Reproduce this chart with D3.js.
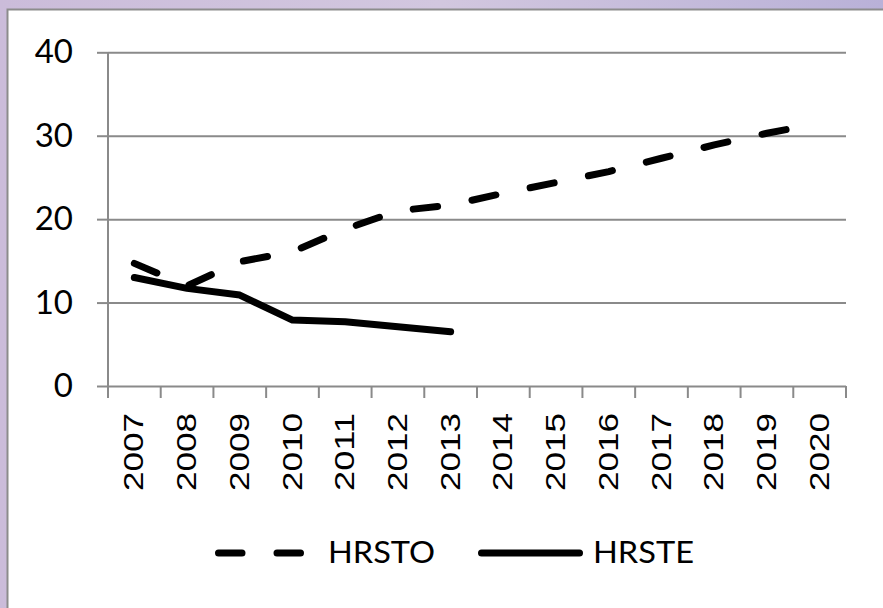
<!DOCTYPE html>
<html>
<head>
<meta charset="utf-8">
<script src="https://cdn.jsdelivr.net/npm/d3@7"></script>
<style>
  html, body { margin: 0; padding: 0; background: #fff; }
  svg { display: block; }
</style>
</head>
<body>
<svg id="chart" width="883" height="608"></svg>
<script>
// ---- data ----
const years = ["2007","2008","2009","2010","2011","2012","2013","2014","2015","2016","2017","2018","2019","2020"];
const hrstoValues = [14.7, 12.0, 14.9, 16.1, 18.8, 21.0, 21.7, 23.1, 24.4, 25.7, 27.3, 28.9, 30.3, 31.5];
const hrsteValues = [13.0, 11.7, 10.9, 7.9, 7.7, 7.1, 6.5];
const yTicks = [0, 10, 20, 30, 40];
const seriesNames = ["HRSTO", "HRSTE"];

(function () {
const svg = d3.select("#chart");
const W = 883, H = 608;

// background gradient
const defs = svg.append("defs");
const grad = defs.append("linearGradient").attr("id", "bg").attr("x1", "0").attr("y1", "0").attr("x2", "1").attr("y2", "0");
grad.append("stop").attr("offset", "0").attr("stop-color", "#cbbcda");
grad.append("stop").attr("offset", "0.5").attr("stop-color", "#d2c7df");
grad.append("stop").attr("offset", "1").attr("stop-color", "#b9b1d8");
svg.append("rect").attr("width", W).attr("height", H).attr("fill", "url(#bg)");

// chart panel
svg.append("rect")
  .attr("x", 7.5).attr("y", 9.5).attr("width", 900).attr("height", 620)
  .attr("fill", "#fff").attr("stroke", "#8c8c8c").attr("stroke-width", 2);

// scales
const pLeft = 108, pRight = 846, pTop = 52.3, pBottom = 386;
const x = d3.scaleBand().domain(years).range([pLeft, pRight]).padding(0);
const y = d3.scaleLinear().domain([0, 40]).range([pBottom, pTop]);
const cx = d => x(d) + x.bandwidth() / 2;

const gridColor = "#8a8a8a";

// gridlines
svg.append("g")
  .attr("transform", `translate(${pLeft},0)`)
  .call(d3.axisLeft(y).tickValues(yTicks).tickSize(-(pRight - pLeft)).tickFormat(""))
  .call(g => g.select(".domain").remove())
  .call(g => g.selectAll("line").attr("stroke", gridColor).attr("stroke-width", 2));

// y axis ticks + labels
svg.append("g")
  .attr("transform", `translate(${pLeft},0)`)
  .call(d3.axisLeft(y).tickValues(yTicks).tickSize(11).tickPadding(24))
  .call(g => g.select(".domain").remove())
  .call(g => g.selectAll("line").attr("stroke", gridColor).attr("stroke-width", 2))
  .call(g => g.selectAll("text")
    .attr("fill", "#000")
    .attr("font-family", "Lato, 'Open Sans', sans-serif")
    .attr("font-size", 33));

// y axis vertical line
svg.append("line")
  .attr("x1", pLeft).attr("x2", pLeft)
  .attr("y1", y(40)).attr("y2", pBottom + 12)
  .attr("stroke", gridColor).attr("stroke-width", 2);

// x tick marks at band boundaries
const boundaries = years.map(d => x(d)).concat([x.range()[1]]);
svg.append("g").selectAll("line").data(boundaries).join("line")
  .attr("x1", d => d).attr("x2", d => d)
  .attr("y1", pBottom).attr("y2", pBottom + 12)
  .attr("stroke", gridColor).attr("stroke-width", 2);

// x labels
svg.append("g")
  .attr("transform", `translate(0,${pBottom})`)
  .call(d3.axisBottom(x).tickSize(0))
  .call(g => g.select(".domain").remove())
  .call(g => g.selectAll("text")
    .attr("transform", "rotate(-90)")
    .attr("text-anchor", "end")
    .attr("x", -27)
    .attr("y", 9)
    .attr("dy", null)
    .attr("fill", "#000")
    .attr("font-family", "'Liberation Sans', Arial, sans-serif")
    .attr("font-size", 27)
    .attr("textLength", 78)
    .attr("lengthAdjust", "spacingAndGlyphs"));

// lines
const line = d3.line().x(d => cx(d.year)).y(d => y(d.v));
const hrsto = years.map((yr, i) => ({ year: yr, v: hrstoValues[i] }));
const hrste = hrsteValues.map((v, i) => ({ year: years[i], v }));

const SW = 7;
const dash = `${31.5 - SW},${28 + SW}`;

svg.append("path").datum(hrsto)
  .attr("d", line).attr("fill", "none").attr("stroke", "#000")
  .attr("stroke-width", SW).attr("stroke-linecap", "round").attr("stroke-linejoin", "round")
  .attr("stroke-dasharray", dash);

svg.append("path").datum(hrste)
  .attr("d", line).attr("fill", "none").attr("stroke", "#000")
  .attr("stroke-width", SW).attr("stroke-linecap", "round").attr("stroke-linejoin", "round");

// legend
const legY = 553;
const leg = svg.append("g");
leg.append("line")
  .attr("x1", 218.5).attr("x2", 318.5).attr("y1", legY).attr("y2", legY)
  .attr("stroke", "#000").attr("stroke-width", SW).attr("stroke-linecap", "round")
  .attr("stroke-dasharray", `${30.5 - SW},${28 + SW}`);
leg.append("text")
  .attr("x", 328).attr("y", 563)
  .attr("font-family", "Lato, 'Open Sans', sans-serif").attr("font-size", 30)
  .attr("textLength", 107).attr("lengthAdjust", "spacingAndGlyphs")
  .text(seriesNames[0]);
leg.append("line")
  .attr("x1", 481.5).attr("x2", 579.5).attr("y1", legY).attr("y2", legY)
  .attr("stroke", "#000").attr("stroke-width", SW).attr("stroke-linecap", "round");
leg.append("text")
  .attr("x", 593).attr("y", 563)
  .attr("font-family", "Lato, 'Open Sans', sans-serif").attr("font-size", 30)
  .attr("textLength", 101).attr("lengthAdjust", "spacingAndGlyphs")
  .text(seriesNames[1]);
})();
</script>
</body>
</html>
